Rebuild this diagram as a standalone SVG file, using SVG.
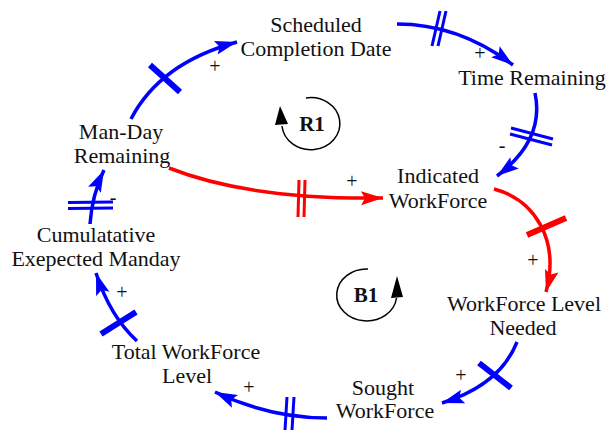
<svg xmlns="http://www.w3.org/2000/svg" width="606" height="430" viewBox="0 0 606 430">
<style>
text{font-family:'Liberation Serif','DejaVu Serif',serif;fill:#111}
.lbl{font-size:22px;text-anchor:middle}
.sgn{font-size:20px;text-anchor:middle}
.loopt{font-size:21px;font-weight:bold;text-anchor:middle}
.b{fill:none;stroke:#0000ff;stroke-width:3.5}
.r{fill:none;stroke:#ff0000;stroke-width:3.5}
.bt{stroke:#0000ff;stroke-width:6}
.rt{stroke:#ff0000;stroke-width:6}
.bd{stroke:#0000ff;stroke-width:3}
.rd{stroke:#ff0000;stroke-width:3}
.loop{fill:none;stroke:#000;stroke-width:1.5}
</style>
<defs>
<marker id="ab" markerUnits="userSpaceOnUse" markerWidth="24" markerHeight="16" viewBox="0 0 24 16" refX="22" refY="8" orient="auto">
<path d="M0,1 L22,8 L0,15 L4,8 Z" fill="#0000ff"/>
</marker>
<marker id="ar" markerUnits="userSpaceOnUse" markerWidth="24" markerHeight="16" viewBox="0 0 24 16" refX="22" refY="8" orient="auto">
<path d="M0,1 L22,8 L0,15 L4,8 Z" fill="#ff0000"/>
</marker>
</defs>

<g id="connectors">
<path class="b" d="M131,119 Q160,63 237,42" marker-end="url(#ab)"/>
<line class="bt" x1="150" y1="65" x2="180" y2="92"/>
<path class="b" d="M397,24 C440,24 480,40 513,65" marker-end="url(#ab)"/>
<line class="bd" x1="432" y1="46" x2="440" y2="11"/>
<line class="bd" x1="438" y1="46" x2="446" y2="11"/>
<path class="b" d="M535,93 Q545,140 497,176" marker-end="url(#ab)"/>
<line class="bd" x1="511" y1="128" x2="553" y2="139"/>
<line class="bd" x1="510" y1="134" x2="552" y2="145"/>
<path class="r" d="M169,168 Q250,200 383,198" marker-end="url(#ar)"/>
<line class="rd" x1="299" y1="180" x2="298" y2="217"/>
<line class="rd" x1="305" y1="180" x2="304" y2="217"/>
<path class="r" d="M494,189 C535,200 560,240 546,292" marker-end="url(#ar)"/>
<line class="rt" x1="527" y1="235" x2="566" y2="218"/>
<path class="b" d="M517,342 Q500,385 442,403" marker-end="url(#ab)"/>
<line class="bt" x1="479" y1="363" x2="511" y2="388"/>
<path class="b" d="M327,418 Q270,418 215,392" marker-end="url(#ab)"/>
<line class="bd" x1="287" y1="397" x2="285" y2="430"/>
<line class="bd" x1="294" y1="397" x2="292" y2="430"/>
<path class="b" d="M137,341 C125,330 108,310 96,273" marker-end="url(#ab)"/>
<line class="bt" x1="101" y1="334" x2="136" y2="312"/>
<path class="b" d="M90,224 Q92,195 104,170" marker-end="url(#ab)"/>
<line class="bd" x1="68" y1="202.5" x2="113" y2="202"/>
<line class="bd" x1="68" y1="208.5" x2="113" y2="208"/>
<text class="sgn" x="215" y="73">+</text>
<text class="sgn" x="480" y="60">+</text>
<text class="sgn" x="502" y="152">-</text>
<text class="sgn" x="352" y="188">+</text>
<text class="sgn" x="533" y="267">+</text>
<text class="sgn" x="461" y="382">+</text>
<text class="sgn" x="249" y="394">+</text>
<text class="sgn" x="122" y="299">+</text>
<text class="sgn" x="113" y="204">-</text>
</g>

<g id="node-scheduled-completion-date">
<text class="lbl" x="316" y="32">Scheduled</text>
<text class="lbl" x="316" y="56">Completion Date</text>
</g>
<g id="node-time-remaining">
<text class="lbl" x="532" y="85">Time Remaining</text>
</g>
<g id="node-indicated-workforce">
<text class="lbl" x="438" y="183">Indicated</text>
<text class="lbl" x="438" y="208">WorkForce</text>
</g>
<g id="node-man-day-remaining">
<text class="lbl" x="121" y="139">Man-Day</text>
<text class="lbl" x="122" y="163">Remaining</text>
</g>
<g id="node-cumulatative-expected-manday">
<text class="lbl" x="96" y="242">Cumulatative</text>
<text class="lbl" x="96" y="266">Exepected Manday</text>
</g>
<g id="node-workforce-level-needed">
<text class="lbl" x="524" y="311">WorkForce Level</text>
<text class="lbl" x="523" y="335">Needed</text>
</g>
<g id="node-sought-workforce">
<text class="lbl" x="383" y="395">Sought</text>
<text class="lbl" x="385" y="418">WorkForce</text>
</g>
<g id="node-total-workforce-level">
<text class="lbl" x="186" y="359">Total WorkForce</text>
<text class="lbl" x="187" y="383">Level</text>
</g>

<g id="loop-r1">
<path class="loop" d="M306,98 A29,26 0 1 1 282,126"/>
<polygon points="280,106 275,125 288,124" fill="#000"/>
<text class="loopt" x="312" y="131">R1</text>
</g>
<g id="loop-b1">
<path class="loop" d="M368,269 A30,26 0 1 0 396.5,298"/>
<polygon points="397,276 391,298 403,297" fill="#000"/>
<text class="loopt" x="366" y="302">B1</text>
</g>
</svg>
